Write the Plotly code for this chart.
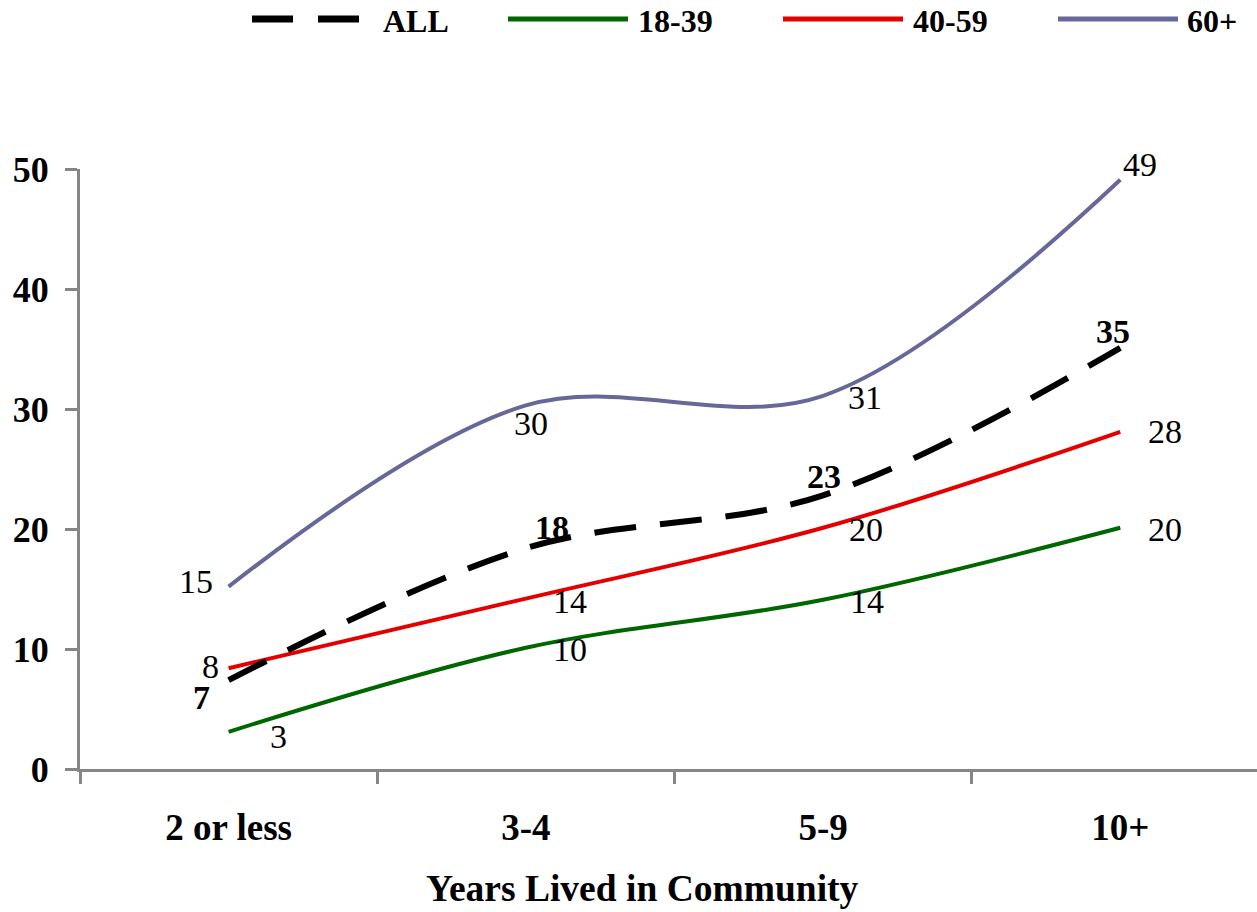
import plotly.graph_objects as go

# ---------------- data ----------------
categories = ["2 or less", "3-4", "5-9", "10+"]
series_names = ["ALL", "18-39", "40-59", "60+"]
all_vals = [7.4, 18.4, 22.8, 35.1]
age_18_39 = [3.1, 10.1, 14.1, 20.1]
age_40_59 = [8.4, 14.2, 20.1, 28.1]
age_60_plus = [15.2, 30.3, 31.1, 49.1]
y_ticks = [0, 10, 20, 30, 40, 50]
x_title = "Years Lived in Community"

# ---------------- style ----------------
FONT = "Times New Roman, Liberation Serif, serif"
W, H = 1257, 912
L, R, T, B = 80, 0, 169, 143
PW, PH = W - L - R, H - T - B
AXIS = "#868686"

styles = {
    "ALL": dict(color="#000000", width=6, dash="42px,24px", bold=True,
                offs=[(-27, -17), (26, 21), (1, 19), (-7, 16)]),
    "18-39": dict(color="#006600", width=4, dash="solid", bold=False,
                  offs=[(50, -5), (44, -2), (44, -2), (45, -2)]),
    "40-59": dict(color="#E50000", width=4, dash="solid", bold=False,
                  offs=[(-18, 2), (44, -3), (43, -2), (45, 0)]),
    "60+": dict(color="#676799", width=4, dash="solid", bold=False,
                offs=[(-33, 5), (5, -18), (42, -2), (20, 15)]),
}
values = {"ALL": all_vals, "18-39": age_18_39, "40-59": age_40_59, "60+": age_60_plus}

def px(xp):
    return (xp - L) / PW

def py(yp):
    return (H - B - yp) / PH

fig = go.Figure()
annotations = []
for name in ["18-39", "40-59", "60+", "ALL"]:
    st = styles[name]
    vals = values[name]
    fig.add_trace(go.Scatter(
        x=categories, y=vals, mode="lines", name=name, showlegend=False,
        line=dict(color=st["color"], width=st["width"], dash=st["dash"], shape="spline"),
        hoverinfo="skip",
    ))
    for c, v, (dx, dy) in zip(categories, vals, st["offs"]):
        annotations.append(dict(
            x=c, y=v, xref="x", yref="y", text=str(int(round(v))), showarrow=False,
            xshift=dx, yshift=dy, xanchor="center", yanchor="middle",
            font=dict(family=FONT, size=34, color="black",
                      weight="bold" if st["bold"] else "normal"),
        ))

# manual legend (long line samples like the original)
legend_pos = {"ALL": (252, 360, 381), "18-39": (508, 628, 636),
              "40-59": (783, 903, 911), "60+": (1058, 1178, 1185)}
shapes = []
for name in series_names:
    x0, x1, xt = legend_pos[name]
    st = styles[name]
    shapes.append(dict(
        type="line", xref="paper", yref="paper", x0=px(x0), x1=px(x1), y0=py(19), y1=py(19),
        line=dict(color=st["color"], width=7 if name == "ALL" else 5,
                  dash="41px,25px" if name == "ALL" else "solid"),
    ))
    annotations.append(dict(
        x=px(xt), y=py(21), xref="paper", yref="paper", text=name, showarrow=False,
        xanchor="left", yanchor="middle",
        font=dict(family=FONT, size=32, color="black", weight="bold"),
    ))

annotations.append(dict(
    x=px(642), y=py(888), xref="paper", yref="paper", text=x_title, showarrow=False,
    xanchor="center", yanchor="middle",
    font=dict(family=FONT, size=37.5, color="black", weight="bold"),
))

fig.update_layout(
    width=W, height=H,
    margin=dict(l=L, r=R, t=T, b=B, pad=0),
    paper_bgcolor="white", plot_bgcolor="white",
    showlegend=False, hovermode=False,
    annotations=annotations, shapes=shapes,
    xaxis=dict(
        type="category", range=[-0.5, 3.46], tickson="boundaries",
        showline=True, linecolor=AXIS, linewidth=3,
        ticks="outside", ticklen=12, tickwidth=3, tickcolor=AXIS,
        showgrid=False, zeroline=False, ticklabelstandoff=24,
        tickfont=dict(family=FONT, size=37, color="black", weight="bold"),
    ),
    yaxis=dict(
        range=[0, 50], tickvals=y_ticks, ticktext=[str(t) for t in y_ticks],
        showline=True, linecolor=AXIS, linewidth=3,
        ticks="outside", ticklen=12, tickwidth=3, tickcolor=AXIS,
        showgrid=False, zeroline=False, ticklabelstandoff=9,
        tickfont=dict(family=FONT, size=36, color="black", weight="bold"),
    ),
)

fig.write_html(
    "out.html",
    config={"displayModeBar": False, "staticPlot": True},
    post_script="document.body.style.margin='0';document.body.style.overflow='hidden';",
)
